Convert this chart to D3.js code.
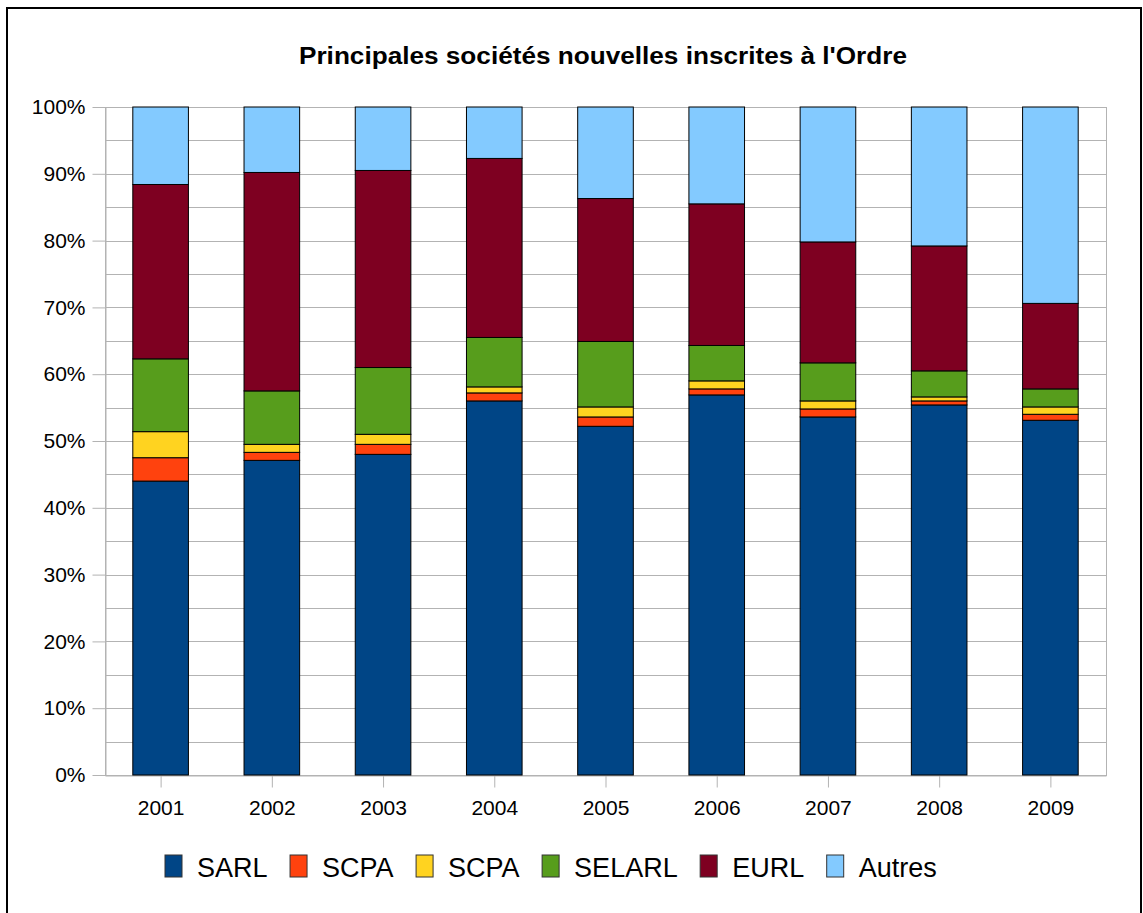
<!DOCTYPE html>
<html>
<head>
<meta charset="utf-8">
<script src="https://cdn.jsdelivr.net/npm/d3@7"></script>
<style>
body { margin: 0; background: #fff; }
text { font-family: "Liberation Sans", Arial, sans-serif; fill: #000; }
.axis path, .axis line { stroke: #b3b3b3; }
.grid line { stroke: #b3b3b3; stroke-width: 1; }
</style>
</head>
<body>
<script>
var years = ["2001", "2002", "2003", "2004", "2005", "2006", "2007", "2008", "2009"];
var keys = ["sarl", "scpa", "scpa2", "selarl", "eurl", "autres"];
var labels = ["SARL", "SCPA", "SCPA", "SELARL", "EURL", "Autres"];
var colors = ["#004586", "#ff420e", "#ffd320", "#579d1c", "#7e0021", "#83caff"];
var sarl = [44.0, 47.1, 48.0, 56.0, 52.2, 56.9, 53.6, 55.4, 53.1];
var scpa = [3.5, 1.2, 1.5, 1.2, 1.4, 0.9, 1.2, 0.6, 0.9];
var scpa2 = [3.9, 1.2, 1.5, 0.9, 1.5, 1.2, 1.2, 0.6, 1.1];
var selarl = [10.9, 8.0, 10.0, 7.4, 9.8, 5.3, 5.7, 3.9, 2.7];
var eurl = [26.1, 32.7, 29.5, 26.8, 21.4, 21.2, 18.1, 18.7, 12.8];
var autres = [11.6, 9.8, 9.5, 7.7, 13.7, 14.5, 20.2, 20.8, 29.4];
var title = "Principales sociétés nouvelles inscrites à l'Ordre";

var width = 1143, height = 913;
var plot = {left: 105, right: 1106, top: 107, bottom: 775};

var rows = years.map((yr, i) => ({
    year: yr,
    sarl: sarl[i], scpa: scpa[i], scpa2: scpa2[i],
    selarl: selarl[i], eurl: eurl[i], autres: autres[i],
}));

var stacked = d3.stack()
    .keys(keys)
    .offset(d3.stackOffsetExpand)(rows);

var x = d3.scaleBand()
    .domain(years)
    .range([plot.left, plot.right])
    .paddingInner(0.5)
    .paddingOuter(0.25);
var xc = d3.scalePoint()
    .domain(years)
    .range([plot.left, plot.right])
    .padding(0.5);
var y = d3.scaleLinear()
    .domain([0, 1])
    .range([plot.bottom, plot.top]);
var color = d3.scaleOrdinal().domain(keys).range(colors);

var svg = d3.select("body")
    .append("svg")
    .attr("width", width)
    .attr("height", height)
;

svg.append("rect")
    .attr("x", 7).attr("y", 8)
    .attr("width", 1134).attr("height", 1000)
    .attr("fill", "#fff")
    .attr("stroke", "#000")
    .attr("stroke-width", 2)
;

svg.append("text")
    .attr("x", 603)
    .attr("y", 64)
    .attr("text-anchor", "middle")
    .attr("font-size", 23)
    .attr("font-weight", "bold")
    .attr("textLength", 608)
    .attr("lengthAdjust", "spacingAndGlyphs")
    .text(title)
;

// gridlines every 5%
svg.append("g")
    .attr("class", "grid")
    .selectAll("line")
    .data(d3.range(0, 21).map(d => d / 20))
    .enter().append("line")
    .attr("x1", plot.left)
    .attr("x2", plot.right)
    .attr("y1", d => Math.round(y(d)) + 0.5)
    .attr("y2", d => Math.round(y(d)) + 0.5)
;

svg.append("rect")
    .attr("x", plot.left + 0.5)
    .attr("y", plot.top + 0.5)
    .attr("width", plot.right - plot.left)
    .attr("height", plot.bottom - plot.top)
    .attr("fill", "none")
    .attr("stroke", "#b3b3b3")
;

var yAxis = svg.append("g")
    .attr("class", "axis")
    .attr("transform", `translate(${plot.left + 0.5}, 0)`)
    .call(d3.axisLeft(y)
        .tickValues(d3.range(0, 11).map(d => d / 10))
        .tickFormat(d3.format(".0%"))
        .tickSize(13)
        .tickSizeOuter(0)
        .tickPadding(7))
;
yAxis.selectAll("text").attr("font-size", 21).style("font-family", "'Liberation Sans', Arial, sans-serif");

var xAxis = svg.append("g")
    .attr("class", "axis")
    .attr("transform", `translate(0, ${plot.bottom + 0.5})`)
    .call(d3.axisBottom(xc)
        .tickSize(12)
        .tickSizeOuter(0)
        .tickPadding(13))
;
xAxis.selectAll("text").attr("font-size", 21).style("font-family", "'Liberation Sans', Arial, sans-serif");

var layers = svg.append("g")
    .attr("class", "bars")
    .selectAll("g")
    .data(stacked)
    .enter().append("g")
    .attr("fill", d => color(d.key))
;

layers.selectAll("rect")
    .data(d => d)
    .enter().append("rect")
    .attr("x", d => x(d.data.year))
    .attr("width", x.bandwidth())
    .attr("y", d => y(d[1]))
    .attr("height", d => y(d[0]) - y(d[1]))
    .attr("stroke", "#000")
    .attr("stroke-width", 1)
;

// legend laid out left to right
var legend = svg.append("g").attr("class", "legend");
var lx = 165;
labels.forEach((lab, i) => {
    var item = legend.append("g").attr("transform", `translate(${lx}, 0)`);
    item.append("rect")
        .attr("x", 0).attr("y", 855)
        .attr("width", 17).attr("height", 22)
        .attr("fill", colors[i])
        .attr("stroke", "#333")
    ;
    var t = item.append("text")
        .attr("x", 32)
        .attr("y", 877)
        .attr("font-size", 27)
        .text(lab)
    ;
    lx += 32 + t.node().getComputedTextLength() + 22.5;
});
</script>
</body>
</html>
